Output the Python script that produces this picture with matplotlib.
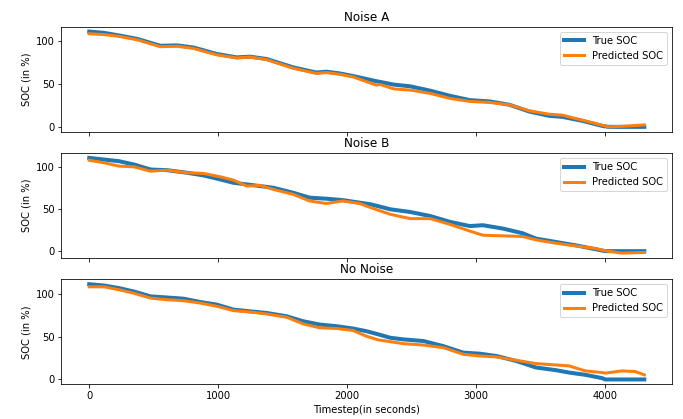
import matplotlib.pyplot as plt
import numpy as np

# --- values --------------------------------------------------------------
# Noise A
t_a = [0, 116, 232, 373, 553, 682, 810, 991, 1145, 1248, 1377, 1583, 1763,
       1840, 1943, 2046, 2226, 2262, 2364, 2492, 2646, 2800, 2954, 3108,
       3262, 3415, 3569, 3672, 3826, 3979, 4031, 4159, 4308]
true_a = [110.5, 109, 106, 102, 94, 94.5, 92, 84.5, 80.6, 81.4, 78.7, 69, 63,
          64, 62, 59, 53, 52, 49, 47, 42, 36, 31, 29.5, 25.6, 17.8, 12.8,
          11.6, 7, 1.2, 0, 0, 0]
pred_a = [108, 107, 105, 101, 93, 93.5, 91, 83.5, 80, 81, 78, 68, 62, 63,
          61, 58, 48.5, 49, 44, 42.6, 38.8, 33, 29.5, 28.3, 25.6, 18.6, 14.7,
          13.6, 7.8, 2, 0, 0.8, 2.3]

# Noise B
t_b = [0, 116, 232, 347, 476, 605, 759, 888, 1017, 1120, 1223, 1326, 1429,
       1583, 1712, 1840, 1969, 2098, 2185, 2338, 2492, 2646, 2800, 2954,
       3056, 3210, 3364, 3467, 3621, 3774, 3928, 4005, 4133, 4308]
true_b = [111.5, 109.5, 107.5, 103.6, 97.6, 96.8, 93.7, 90.5, 85.7, 81.7,
          79.8, 77.8, 75.8, 69.8, 63.9, 62.7, 61, 58, 56, 50, 46.8, 42, 35,
          30, 31, 27, 21.4, 15, 11, 7, 2.4, 0, 0, 0]
pred_b = [108.7, 105.6, 101.6, 100.8, 95.6, 96.8, 93.7, 92.9, 88.9, 84.9,
          77.8, 78.6, 73.8, 67.9, 59.9, 57, 60, 57, 52, 44, 38.9, 38.9, 32,
          24, 19, 18.3, 17.5, 13.5, 9.5, 6.3, 3.2, 0.4, -2.4, -1.6]

# No Noise
t_c = [0, 116, 232, 347, 476, 605, 733, 862, 991, 1120, 1248, 1377, 1532,
       1660, 1789, 1918, 2046, 2149, 2239, 2338, 2441, 2595, 2749, 2903,
       3031, 3159, 3313, 3467, 3621, 3723, 3851, 3979, 4005, 4133, 4236, 4308]
true_c = [111.6, 110, 107, 103, 97.3, 96, 94.6, 90.7, 87.6, 81.8, 79.8, 77.9,
          74, 68.2, 64.3, 62.4, 59.7, 56.6, 53, 48.8, 46.9, 45, 39, 31.4,
          30.2, 27.5, 21.7, 14, 10.9, 8.1, 5.4, 1.6, 0, 0, 0, 0]
pred_c = [108.5, 108.5, 105, 101, 95.3, 93.4, 92.2, 89.5, 85.7, 80.6, 79,
          76.7, 72.9, 65.1, 60.5, 59.7, 57.4, 50.8, 46.5, 44.2, 41.9, 40.3,
          37.2, 29.5, 27.5, 26.4, 22.5, 18.6, 17, 15.9, 10, 8.1, 7.4, 10, 9.3,
          5.4]

titles = ["Noise A", "Noise B", "No Noise"]
panels = [(t_a, true_a, pred_a), (t_b, true_b, pred_b), (t_c, true_c, pred_c)]
# --------------------------------------------------------------------------

fig, axes = plt.subplots(3, 1, sharex=True, figsize=(683 / 72, 419 / 72), dpi=72)
fig.subplots_adjust(left=0.090, right=0.984, top=0.936, bottom=0.083, hspace=0.205)

for ax, title, (t, y_true, y_pred) in zip(axes, titles, panels):
    ax.plot(t, y_true, color="tab:blue", lw=4, label="True SOC")
    ax.plot(t, y_pred, color="tab:orange", lw=3, label="Predicted SOC")
    ax.set_title(title)
    ax.set_ylabel("SOC (in %)")
    ax.set_yticks([0, 50, 100])
    ax.legend(loc="upper right")

axes[-1].set_xlabel("Timestep(in seconds)")
axes[-1].set_xticks([0, 1000, 2000, 3000, 4000])

fig.savefig("out.png", dpi=72)
